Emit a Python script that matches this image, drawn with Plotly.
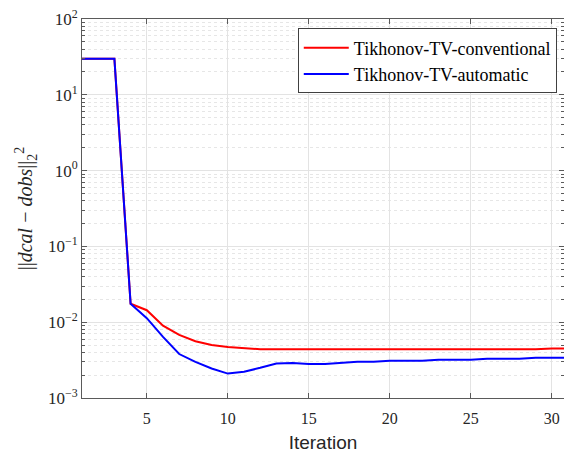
import plotly.graph_objects as go

iterations = list(range(1, 32))
conventional = [30, 30, 30, 0.0175, 0.0144, 0.0090, 0.0068, 0.0056, 0.0050, 0.0047,
                0.0045, 0.0044, 0.0044, 0.0044, 0.0044, 0.0044, 0.0044, 0.0043, 0.0043, 0.0043,
                0.0043, 0.0043, 0.0043, 0.0043, 0.0043, 0.0043, 0.0043, 0.0043, 0.0044, 0.0045, 0.0045]
automatic = [30, 30, 30, 0.0175, 0.0113, 0.0064, 0.0038, 0.0030, 0.00245, 0.0021,
             0.00222, 0.0025, 0.00285, 0.0029, 0.0028, 0.0028, 0.0029, 0.0030, 0.0030, 0.0031,
             0.0031, 0.0031, 0.0032, 0.0032, 0.0032, 0.0033, 0.0033, 0.0033, 0.0034, 0.0034, 0.0034]
ytick_vals = [1e-3, 1e-2, 1e-1, 1e0, 1e1, 1e2]
ytick_text = ["10<sup>−3</sup>", "10<sup>−2</sup>", "10<sup>−1</sup>", "10<sup>0</sup>", "10<sup>1</sup>", "10<sup>2</sup>"]
xtick_vals = [5, 10, 15, 20, 25, 30]

serif = "Liberation Serif"
sans = "Liberation Sans"
axis_col = "#5a5a5a"

fig = go.Figure()
fig.add_trace(go.Scatter(x=iterations, y=conventional, mode="lines", name="Tikhonov-TV-conventional",
                         line=dict(color="#ff0000", width=2)))
fig.add_trace(go.Scatter(x=iterations, y=automatic, mode="lines", name="Tikhonov-TV-automatic",
                         line=dict(color="#0000ff", width=2)))

fig.update_layout(
    width=564, height=453,
    margin=dict(l=82, r=0, t=19, b=55),
    paper_bgcolor="white", plot_bgcolor="white",
    font=dict(family=serif, size=15, color="#262626"),
    legend=dict(x=0.985, y=0.975, xanchor="right", yanchor="top",
                bgcolor="white", bordercolor="#404040", borderwidth=1,
                font=dict(family=serif, size=18, color="#000000"),
                tracegroupgap=0, itemwidth=45),
    showlegend=True,
)
fig.update_xaxes(
    range=[1, 30.75], tickvals=xtick_vals, ticks="inside", ticklen=5, tickcolor=axis_col,
    showline=True, linecolor=axis_col, linewidth=1, mirror="ticks",
    showgrid=True, gridcolor="#e3e3e3", gridwidth=1, zeroline=False,
    tickfont=dict(family=serif, size=16, color="#262626"),
    ticklabelstandoff=6,
    title=dict(text="Iteration", font=dict(family=sans, size=19, color="#262626"), standoff=10),
)
fig.update_yaxes(
    type="log", range=[-3, 2], tickvals=ytick_vals, ticktext=ytick_text,
    ticks="inside", ticklen=5, tickcolor=axis_col,
    showline=True, linecolor=axis_col, linewidth=1, mirror="ticks",
    showgrid=True, gridcolor="#e3e3e3", gridwidth=1, zeroline=False,
    tickfont=dict(family=serif, size=17, color="#262626"),
    minor=dict(dtick="D1", ticks="inside", ticklen=3, tickcolor=axis_col,
               showgrid=True, gridcolor="#e6e6e6", griddash="dot", gridwidth=1),
    title=dict(text="||<i>dcal</i> − <i>dobs</i>||<sub>2</sub><sup>2</sup>",
               font=dict(family=serif, size=20, color="#262626"), standoff=9),
)
fig.write_html("out.html")
